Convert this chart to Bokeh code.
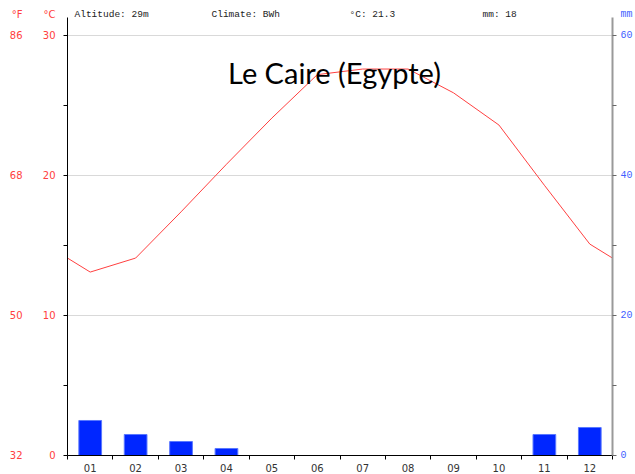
from bokeh.plotting import figure
from bokeh.models import Range1d, LinearAxis, FixedTicker, Label
from bokeh.embed import file_html
from bokeh.resources import INLINE

# ---- data ----
months = ["01", "02", "03", "04", "05", "06", "07", "08", "09", "10", "11", "12"]
temp_c = [13.1, 14.1, 17.4, 20.8, 24.1, 27.2, 27.6, 27.6, 25.9, 23.6, 19.3, 15.1]
precip_mm = [5, 3, 2, 1, 0, 0, 0, 0, 0, 0, 3, 4]
c_ticks = [0, 10, 20, 30]
c_minor = [5, 15, 25]
f_ticks = [32, 50, 68, 86]
mm_ticks = [0, 20, 40, 60]
mm_minor = [10, 30, 50]
altitude = "29m"
climate = "BWh"
mean_temp = "21.3"
total_mm = "18"
title_text = "Le Caire (Egypte)"

# header rows of the unit columns (placed just above the axes)
C_HEAD, F_HEAD, MM_HEAD = 31.5, 88.7, 63

AXIS_TOP = 31.25          # top of drawn axes (°C)
RED = "#ff4040"
BLUE = "#3f5fff"
LBL_FONT = "DejaVu Sans"

centers = [i + 0.5 for i in range(len(months))]
edge = (temp_c[0] + temp_c[-1]) / 2
line_x = [0] + centers + [len(months)]
line_y = [edge] + temp_c + [edge]

FL, FT, FB = 67, 8, 456   # frame left / top / bottom in page px
PX_PER_C = (FB - 35) / 30.0
C_TOP = (FB - FT) / PX_PER_C

p = figure(width=635, height=474, x_range=Range1d(0, 12), y_range=Range1d(0, C_TOP),
           output_backend="svg", toolbar_location=None,
           min_border_left=FL, min_border_right=21, min_border_top=FT,
           min_border_bottom=474 - FB)
p.outline_line_color = None
p.background_fill_color = "white"
p.border_fill_color = "white"

p.extra_y_ranges = {"F": Range1d(32, 32 + C_TOP * 1.8), "mm": Range1d(0, C_TOP * 2)}

# celsius axis: line + ticks only
yax = p.yaxis[0]
yax.ticker = FixedTicker(ticks=c_ticks, minor_ticks=c_minor)
yax.bounds = (0, AXIS_TOP)
yax.axis_line_color = "black"
yax.major_tick_in = 0
yax.major_tick_out = 4
yax.minor_tick_in = 0
yax.minor_tick_out = 4
yax.major_tick_line_color = "black"
yax.minor_tick_line_color = "black"
yax.major_label_standoff = 0
yax.major_label_overrides = {t: "" for t in c_ticks}

# celsius labels
cax = LinearAxis(ticker=FixedTicker(ticks=c_ticks + [C_HEAD], minor_ticks=[]))
cax.major_label_overrides = {C_HEAD: "°C"}
cax.axis_line_color = None
cax.major_tick_line_color = None
cax.minor_tick_line_color = None
cax.major_tick_in = 0
cax.major_tick_out = 0
cax.major_label_standoff = 8
cax.major_label_text_color = RED
cax.major_label_text_font = LBL_FONT
cax.major_label_text_font_size = "10px"
p.add_layout(cax, "left")

# fahrenheit labels
fax = LinearAxis(y_range_name="F", ticker=FixedTicker(ticks=f_ticks + [F_HEAD], minor_ticks=[]))
fax.major_label_overrides = {F_HEAD: "°F"}
fax.axis_line_color = None
fax.major_tick_line_color = None
fax.minor_tick_line_color = None
fax.major_tick_in = 0
fax.major_tick_out = 0
fax.major_label_standoff = 17
fax.major_label_text_color = RED
fax.major_label_text_font = LBL_FONT
fax.major_label_text_font_size = "10px"
p.add_layout(fax, "left")

# mm axis: line + ticks only
max_ = LinearAxis(y_range_name="mm", ticker=FixedTicker(ticks=mm_ticks, minor_ticks=mm_minor))
max_.bounds = (0, AXIS_TOP * 2)
max_.axis_line_color = "#999999"
max_.axis_line_width = 2
max_.major_tick_in = 0
max_.major_tick_out = 4
max_.minor_tick_in = 0
max_.minor_tick_out = 4
max_.major_tick_line_color = "#666666"
max_.minor_tick_line_color = "#666666"
max_.major_label_standoff = 0
max_.major_label_overrides = {t: "" for t in mm_ticks}
p.add_layout(max_, "right")

# mm labels
mlab = LinearAxis(y_range_name="mm", ticker=FixedTicker(ticks=mm_ticks + [MM_HEAD], minor_ticks=[]))
mlab.major_label_overrides = {MM_HEAD: "mm"}
mlab.axis_line_color = None
mlab.major_tick_line_color = None
mlab.minor_tick_line_color = None
mlab.major_tick_in = 0
mlab.major_tick_out = 0
mlab.major_label_standoff = 4
mlab.major_label_text_color = BLUE
mlab.major_label_text_font = "Liberation Mono"
mlab.major_label_text_font_size = "10px"
p.add_layout(mlab, "right")

# x axis
xax = p.xaxis[0]
xax.ticker = FixedTicker(ticks=centers, minor_ticks=list(range(len(months) + 1)))
xax.major_label_overrides = {c: m for c, m in zip(centers, months)}
xax.axis_line_color = "black"
xax.major_tick_in = 0
xax.major_tick_out = 0
xax.minor_tick_in = 0
xax.minor_tick_out = 4
xax.minor_tick_line_color = "black"
xax.major_label_standoff = 4
xax.major_label_text_color = "#333333"
xax.major_label_text_font = LBL_FONT
xax.major_label_text_font_size = "10px"

p.xgrid.visible = False
p.ygrid.ticker = FixedTicker(ticks=c_ticks, minor_ticks=[])
p.ygrid.grid_line_color = "#d9d9d9"
p.ygrid.grid_line_width = 1

# bars and line
p.vbar(x=centers, top=precip_mm, width=0.5, y_range_name="mm",
       fill_color="#0026ff", line_color="#5a78ff", line_width=1)
p.line(line_x, line_y, line_color=RED, line_width=1)


def lab(text, px, py, color="#222222", size="9.5px", font="Liberation Mono", align="left",
        baseline="middle"):
    p.add_layout(Label(x=px - FL, y=FB - py, x_units="screen", y_units="screen", text=text,
                       text_color=color, text_font_size=size, text_font=font,
                       text_align=align, text_baseline=baseline))


lab("Altitude: " + altitude, 74, 15)
lab("Climate: " + climate, 211, 15)
lab("°C: " + mean_temp, 349, 15)
lab("mm: " + total_mm, 482, 15)
lab(title_text, 334, 73, color="black", size="29px", font="Lato", align="center",
    baseline="middle")

open("out.html", "w").write(file_html(p, INLINE))
